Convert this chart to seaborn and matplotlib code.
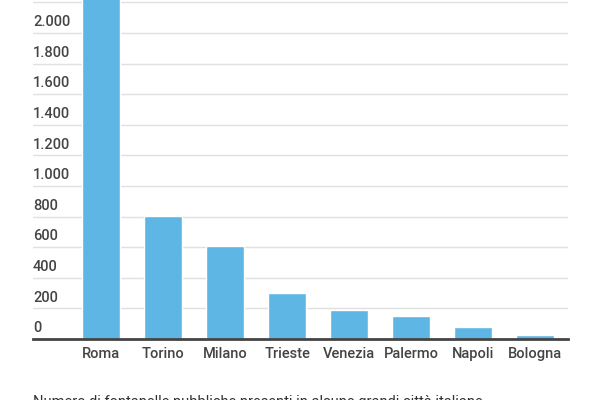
import pandas as pd
import seaborn as sns
import matplotlib.pyplot as plt

# numero di fontanelle pubbliche per città
citta = ['Roma', 'Torino', 'Milano', 'Trieste', 'Venezia', 'Palermo', 'Napoli', 'Bologna']
fontanelle = [2500, 805, 605, 303, 190, 151, 80, 25]
y_ticks = [0, 200, 400, 600, 800, 1000, 1200, 1400, 1600, 1800, 2000, 2200]
y_labels = ['0', '200', '400', '600', '800', '1.000', '1.200', '1.400', '1.600', '1.800', '2.000', '']

df = pd.DataFrame({'citta': citta, 'fontanelle': fontanelle})

sns.set_style('white')
plt.rcParams['font.family'] = ['Roboto', 'DejaVu Sans']

fig = plt.figure(figsize=(6, 4), dpi=100)
ax = fig.add_axes([33 / 600, 61 / 400, 535 / 600, 339 / 400])

sns.barplot(data=df, x='citta', y='fontanelle', color='#5DB6E4', width=0.61,
            saturation=1, ax=ax, zorder=2)

ax.set_xlim(-1.1, 7.53)
ax.set_ylim(0, 2216)
ax.set_yticks(y_ticks)
ax.yaxis.grid(True, color='#e0e0e0', linewidth=1, zorder=0)
ax.set_yticklabels([])
ax.tick_params(axis='y', length=0)
ax.tick_params(axis='x', length=0, pad=6, labelsize=10.5, labelcolor='#444444')
for t in ax.get_xticklabels():
    t.set_fontweight('medium')
ax.set_xlabel('')
ax.set_ylabel('')
for side in ['top', 'right', 'left']:
    ax.spines[side].set_visible(False)
ax.spines['bottom'].set_color('#444444')
ax.spines['bottom'].set_linewidth(2)
ax.spines['bottom'].set_zorder(3)

# etichette asse y sopra le linee della griglia
for val, lab in zip(y_ticks, y_labels):
    ax.text(0, val + 25, lab, transform=ax.get_yaxis_transform(),
            ha='left', va='bottom', fontsize=10.5, color='#444444',
            fontweight='medium')

fig.text(33 / 600, 5 / 400,
         'Numero di fontanelle pubbliche presenti in alcune grandi città italiane',
         ha='left', va='top', fontsize=10.5, color='#333333')

fig.savefig('out.png', dpi=100)
